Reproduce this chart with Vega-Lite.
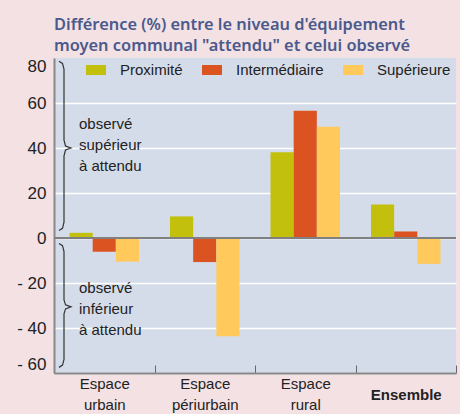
{
  "$schema": "https://vega.github.io/schema/vega-lite/v6.json",
  "width": 402,
  "height": 315,
  "autosize": {"type": "none"},
  "padding": {"left": 54, "top": 58, "right": 4, "bottom": 41},
  "background": "#f3e1e4",
  "config": {"view": {"fill": "#d5dce9", "stroke": null}, "font": "Liberation Sans"},
  "title": {
    "text": ["Différence (%) entre le niveau d'équipement", "moyen communal \"attendu\" et celui observé"],
    "anchor": "start",
    "frame": "group",
    "font": "Noto Sans",
    "fontSize": 16.4,
    "fontWeight": 600,
    "color": "#4a5a8c",
    "offset": 3,
    "lineHeight": 20.5
  },
  "datasets": {
    "bars": [
      {"espace": "Espace urbain", "niveau": "Proximité", "valeur": 2.3},
      {"espace": "Espace urbain", "niveau": "Intermédiaire", "valeur": -6.1},
      {"espace": "Espace urbain", "niveau": "Supérieure", "valeur": -10.5},
      {"espace": "Espace périurbain", "niveau": "Proximité", "valeur": 9.6},
      {"espace": "Espace périurbain", "niveau": "Intermédiaire", "valeur": -10.7},
      {"espace": "Espace périurbain", "niveau": "Supérieure", "valeur": -43.7},
      {"espace": "Espace rural", "niveau": "Proximité", "valeur": 38.1},
      {"espace": "Espace rural", "niveau": "Intermédiaire", "valeur": 56.6},
      {"espace": "Espace rural", "niveau": "Supérieure", "valeur": 49.5},
      {"espace": "Ensemble", "niveau": "Proximité", "valeur": 14.9},
      {"espace": "Ensemble", "niveau": "Intermédiaire", "valeur": 2.9},
      {"espace": "Ensemble", "niveau": "Supérieure", "valeur": -11.5}
    ],
    "braces": [
      {"brace": "haut", "i": 0, "bx": 5, "valeur": 78.6},
      {"brace": "haut", "i": 1, "bx": 8.5, "valeur": 77.6},
      {"brace": "haut", "i": 2, "bx": 10, "valeur": 75},
      {"brace": "haut", "i": 3, "bx": 10, "valeur": 43.5},
      {"brace": "haut", "i": 4, "bx": 11.5, "valeur": 40.9},
      {"brace": "haut", "i": 5, "bx": 17, "valeur": 40},
      {"brace": "haut", "i": 6, "bx": 11.5, "valeur": 39.1},
      {"brace": "haut", "i": 7, "bx": 10, "valeur": 36.5},
      {"brace": "haut", "i": 8, "bx": 10, "valeur": 7},
      {"brace": "haut", "i": 9, "bx": 8.5, "valeur": 4.3},
      {"brace": "haut", "i": 10, "bx": 5, "valeur": 3.3},
      {"brace": "bas", "i": 0, "bx": 5, "valeur": -2.4},
      {"brace": "bas", "i": 1, "bx": 8.5, "valeur": -3.4},
      {"brace": "bas", "i": 2, "bx": 10, "valeur": -6},
      {"brace": "bas", "i": 3, "bx": 10, "valeur": -27.5},
      {"brace": "bas", "i": 4, "bx": 11.5, "valeur": -29.7},
      {"brace": "bas", "i": 5, "bx": 17, "valeur": -30.6},
      {"brace": "bas", "i": 6, "bx": 11.5, "valeur": -31.5},
      {"brace": "bas", "i": 7, "bx": 10, "valeur": -33.7},
      {"brace": "bas", "i": 8, "bx": 10, "valeur": -54},
      {"brace": "bas", "i": 9, "bx": 8.5, "valeur": -56.5},
      {"brace": "bas", "i": 10, "bx": 5, "valeur": -57.5}
    ],
    "notes": [
      {"nx": 25, "valeur": 50.5, "label": "observé\nsupérieur\nà attendu"},
      {"nx": 25, "valeur": -22, "label": "observé\ninférieur\nà attendu"}
    ]
  },
  "layer": [
    {
      "data": {"name": "bars"},
      "mark": {"type": "bar"},
      "encoding": {
        "x": {
          "field": "espace",
          "type": "nominal",
          "sort": ["Espace urbain", "Espace périurbain", "Espace rural", "Ensemble"],
          "scale": {"paddingInner": 0, "paddingOuter": 0},
          "axis": {
            "title": null,
            "labelExpr": "!isString(datum.value) ? '' : (datum.value == 'Ensemble' ? 'Ensemble' : split(datum.value, ' '))",
            "labelFontWeight": {"condition": {"test": "datum.value == 'Ensemble'", "value": "bold"}, "value": "normal"},
            "labelPadding": {"condition": {"test": "datum.value == 'Ensemble'", "value": 22}, "value": 11},
            "labelFontSize": 15,
            "labelLineHeight": 21,
            "labelAngle": 0,
            "labelBaseline": "top",
            "labelColor": "#222222",
            "tickBand": "extent",
            "tickSize": -8,
            "tickColor": "#666666",
            "tickWidth": 1,
            "domainColor": "#888888",
            "domainWidth": 2
          }
        },
        "xOffset": {
          "field": "niveau",
          "sort": ["Proximité", "Intermédiaire", "Supérieure"],
          "scale": {"paddingInner": 0, "paddingOuter": 0.67}
        },
        "y": {
          "field": "valeur",
          "type": "quantitative",
          "scale": {"domain": [-60, 80], "nice": false},
          "axis": {
            "title": null,
            "values": [-60, -40, -20, 0, 20, 40, 60, 80],
            "labelExpr": "datum.value < 0 ? '- ' + abs(datum.value) : datum.label",
            "ticks": false,
            "labelPadding": 8,
            "labelFontSize": 17,
            "labelColor": "#222222",
            "labelFlush": true,
            "grid": true,
            "gridColor": {"condition": {"test": "datum.value == 80", "value": "transparent"}, "value": "#ffffff"},
            "gridWidth": 1.5,
            "domainColor": "#888888",
            "domainWidth": 2
          }
        },
        "color": {
          "field": "niveau",
          "type": "nominal",
          "scale": {"domain": ["Proximité", "Intermédiaire", "Supérieure"], "range": ["#c2c00c", "#dc5322", "#ffc95c"]},
          "legend": {
            "title": null,
            "orient": "none",
            "legendX": 32,
            "legendY": 2,
            "direction": "horizontal",
            "symbolType": "M-1,-0.5H1V0.5H-1Z",
            "symbolSize": 400,
            "symbolStrokeWidth": 0,
            "symbolOpacity": 1,
            "labelFontSize": 15,
            "labelOffset": 14,
            "columnPadding": 19,
            "labelColor": "#222222",
            "padding": 0
          }
        }
      }
    },
    {
      "data": {"values": [{}]},
      "mark": {"type": "rule", "color": "#808080", "strokeWidth": 2},
      "encoding": {"y": {"datum": 0}}
    },
    {
      "data": {"name": "braces"},
      "mark": {"type": "line", "color": "#333333", "strokeWidth": 1.2},
      "encoding": {
        "x": {"field": "bx", "type": "quantitative", "scale": {"domain": [0, 402]}, "axis": null},
        "y": {"field": "valeur", "type": "quantitative"},
        "detail": {"field": "brace"},
        "order": {"field": "i"}
      }
    },
    {
      "data": {"name": "notes"},
      "mark": {"type": "text", "align": "left", "baseline": "middle", "fontSize": 15, "lineBreak": "\n", "lineHeight": 21, "color": "#222222"},
      "encoding": {
        "x": {"field": "nx", "type": "quantitative", "scale": {"domain": [0, 402]}, "axis": null},
        "y": {"field": "valeur", "type": "quantitative"},
        "text": {"field": "label"}
      }
    }
  ],
  "resolve": {"scale": {"x": "independent"}}
}
